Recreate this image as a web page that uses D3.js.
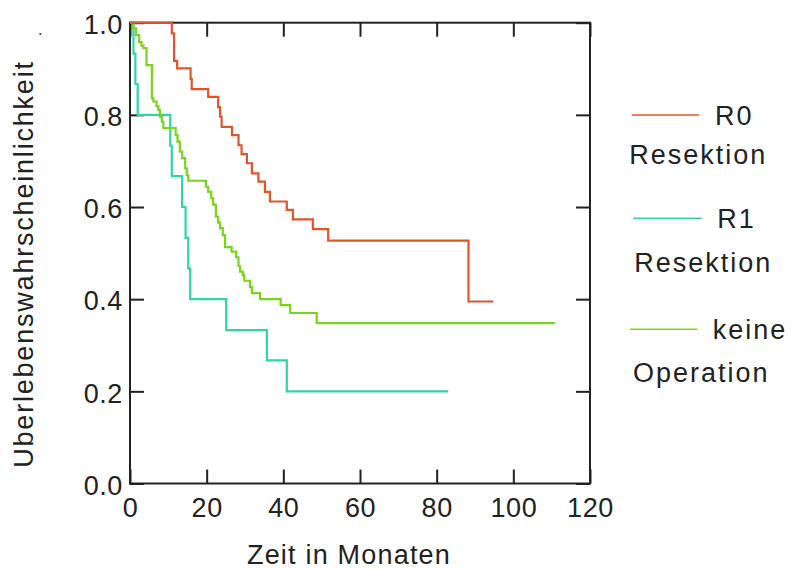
<!DOCTYPE html>
<html>
<head>
<meta charset="utf-8">
<script src="https://cdn.jsdelivr.net/npm/d3@7"></script>
<style>
  html, body { margin: 0; padding: 0; background: #fff; }
  svg text { font-family: "Liberation Sans", Arial, sans-serif; fill: #222; }
</style>
</head>
<body>
<svg id="chart" width="791" height="570"></svg>
<script>
// ---- data ----
const xTicks = [0, 20, 40, 60, 80, 100, 120];
const yTicks = [0.0, 0.2, 0.4, 0.6, 0.8, 1.0];

const r0Times = [0, 10.9, 11.5, 12.3, 15.8, 16.1, 20.4, 23.0, 23.5, 23.9, 26.6, 28.3, 29.1, 30.5, 31.8, 33.5, 35.2, 36.5, 40.9, 42.5, 47.7, 51.7, 88.3, 94.8];
const r0Surv  = [1, 0.977, 0.917, 0.901, 0.878, 0.856, 0.839, 0.817, 0.796, 0.774, 0.756, 0.734, 0.715, 0.695, 0.673, 0.655, 0.633, 0.612, 0.594, 0.573, 0.552, 0.527, 0.395, 0.395];

const r1Times = [0, 0.9, 1.4, 2.0, 10.5, 10.9, 13.6, 14.5, 15.2, 15.7, 25.1, 35.7, 40.9, 83.0];
const r1Surv  = [1, 0.933, 0.867, 0.8, 0.733, 0.667, 0.6, 0.533, 0.467, 0.4, 0.333, 0.267, 0.2, 0.2];

const noOpTimes = [0, 0.8, 1.6, 2.4, 3.0, 3.5, 4.3, 5.7, 6.1, 6.9, 7.4, 7.8, 8.3, 8.7, 11.9, 12.4, 13.0, 13.6, 14.4, 14.8, 15.2, 19.8, 20.4, 21.2, 21.7, 22.4, 23.0, 23.5, 24.2, 24.8, 26.5, 27.7, 28.3, 28.7, 29.4, 29.8, 31.3, 31.8, 33.9, 39.3, 41.8, 48.7, 110.9];
const noOpSurv  = [1, 0.988, 0.973, 0.958, 0.950, 0.945, 0.908, 0.836, 0.829, 0.819, 0.811, 0.796, 0.785, 0.771, 0.756, 0.742, 0.720, 0.706, 0.684, 0.669, 0.657, 0.644, 0.633, 0.619, 0.605, 0.579, 0.566, 0.554, 0.539, 0.513, 0.503, 0.491, 0.472, 0.460, 0.452, 0.440, 0.426, 0.413, 0.400, 0.387, 0.370, 0.348, 0.348];

const seriesNames = [["R0", "Resektion"], ["R1", "Resektion"], ["keine", "Operation"]];
const xTitle = "Zeit in Monaten";
const yTitle = "Uberlebenswahrscheinlichkeit";

// ---- layout ----
const svg = d3.select("#chart");
const L = 130, R = 590, T = 22.7, B = 483.5;
const x = d3.scaleLinear().domain([0, 120]).range([L, R]);
const y = d3.scaleLinear().domain([0, 1]).range([B, T]);
const colors = ["#e2542a", "#2bd6aa", "#7bd21f"];
const TICK = 14;
const FONT = 27;

// frame
svg.append("rect").attr("x", L).attr("y", T).attr("width", R - L).attr("height", B - T)
  .attr("fill", "none").attr("stroke", "#222").attr("stroke-width", 2);

function styleAxis(g) {
  g.select(".domain").remove();
  g.selectAll(".tick line").attr("stroke", "#222").attr("stroke-width", 2);
  g.selectAll("text").attr("font-size", FONT).attr("fill", "#222").attr("letter-spacing", 0.6)
    .attr("font-family", '"Liberation Sans", Arial, sans-serif');
}

svg.append("g").attr("transform", `translate(0,${B})`)
  .call(d3.axisBottom(x).tickValues(xTicks).tickSizeInner(-TICK).tickSizeOuter(0).tickPadding(14).tickFormat(d3.format("d")))
  .call(styleAxis);
svg.append("g").attr("transform", `translate(0,${T})`)
  .call(d3.axisTop(x).tickValues(xTicks).tickSizeInner(-TICK).tickSizeOuter(0).tickFormat(""))
  .call(styleAxis);
svg.append("g").attr("transform", `translate(${L},0)`)
  .call(d3.axisLeft(y).tickValues(yTicks).tickSizeInner(-TICK).tickSizeOuter(0).tickPadding(7).tickFormat(d3.format(".1f")))
  .call(styleAxis)
  .selectAll("text").attr("dy", "0.4em");
svg.append("g").attr("transform", `translate(${R},0)`)
  .call(d3.axisRight(y).tickValues(yTicks).tickSizeInner(-TICK).tickSizeOuter(0).tickFormat(""))
  .call(styleAxis);

// curves
const line = d3.line().x(d => x(d[0])).y(d => y(d[1])).curve(d3.curveStepAfter);
const series = [
  d3.zip(r0Times, r0Surv),
  d3.zip(r1Times, r1Surv),
  d3.zip(noOpTimes, noOpSurv)
];
// draw order: R1, noOp, R0 (R0 on top on the frame)
[1, 2, 0].forEach(i => {
  svg.append("path").attr("d", line(series[i]))
    .attr("fill", "none").attr("stroke", colors[i]).attr("stroke-width", 2.2);
});

// titles
svg.append("text").attr("x", 349).attr("y", 564).attr("text-anchor", "middle")
  .attr("font-size", FONT).attr("letter-spacing", 1.2).text(xTitle);
svg.append("text").attr("transform", "translate(33,264) rotate(-90)").attr("text-anchor", "middle")
  .attr("font-size", FONT).attr("letter-spacing", 1.8).text(yTitle);
svg.append("text").attr("x", 38).attr("y", 35).attr("font-size", 16).text(".");

// legend
const legendY = [115, 218.3, 329.3];
const legendLineX = [[631.7, 699.3], [633.3, 701.7], [630, 697.3]];
const legendTextX = [715, 717.3, 712.7];
const legendSubX = [629.3, 634.3, 633];
const legendSubY = [164, 271.5, 382];
seriesNames.forEach((nm, i) => {
  svg.append("line").attr("x1", legendLineX[i][0]).attr("x2", legendLineX[i][1])
    .attr("y1", legendY[i]).attr("y2", legendY[i])
    .attr("stroke", colors[i]).attr("stroke-width", 1.6);
  svg.append("text").attr("x", legendTextX[i]).attr("y", legendY[i] + 10)
    .attr("font-size", FONT).attr("letter-spacing", 2).text(nm[0]);
  svg.append("text").attr("x", legendSubX[i]).attr("y", legendSubY[i])
    .attr("font-size", FONT).attr("letter-spacing", 2).text(nm[1]);
});
</script>
</body>
</html>
